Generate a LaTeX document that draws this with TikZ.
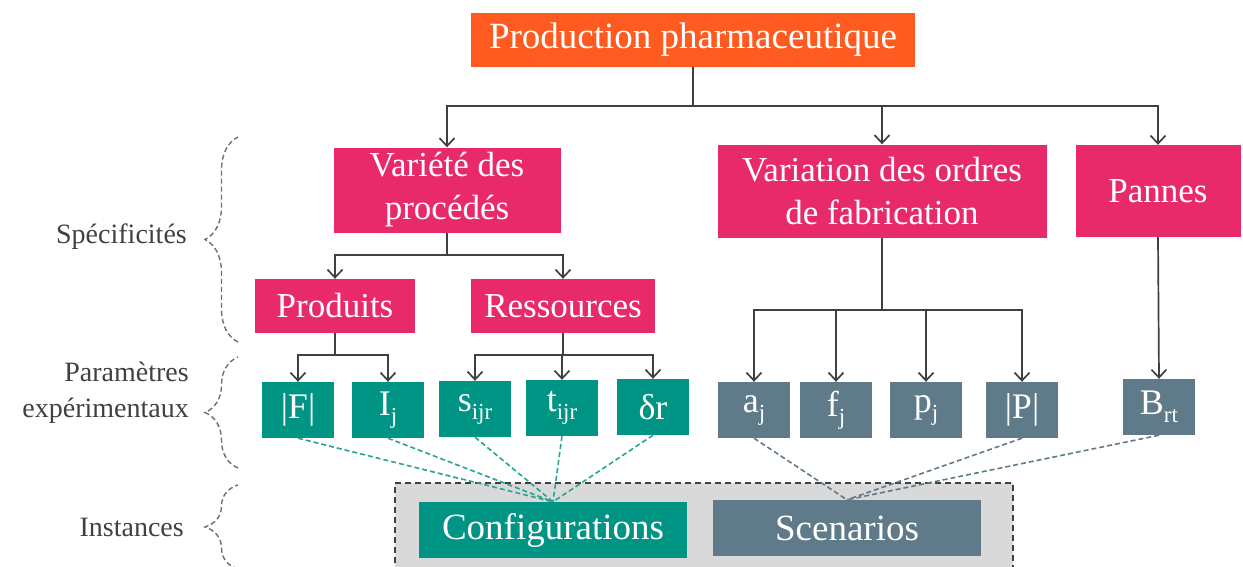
\documentclass[tikz,border=0pt]{standalone}
\usepackage{fontspec}
\setmainfont{Liberation Serif}
\usetikzlibrary{arrows.meta, positioning, calc, decorations.pathreplacing}
\definecolor{prodOrange}{RGB}{255,90,31}
\definecolor{specPink}{RGB}{232,41,106}
\definecolor{confTeal}{RGB}{0,148,132}
\definecolor{scenSlate}{RGB}{95,122,136}
\definecolor{darkgray}{RGB}{64,64,64}
\definecolor{braceGray}{RGB}{110,110,110}
\definecolor{instGray}{RGB}{217,217,217}
\newcommand{\idx}[1]{\raisebox{-8pt}{\fontsize{23}{23}\selectfont #1}}

\begin{document}
\begin{tikzpicture}[
  x=1pt, y=-1pt,
  box/.style={
    rectangle, fill=#1, text=white, inner sep=0pt,
    align=center, font=\fontsize{35}{43}\selectfont
  },
  param/.style={
    box=#1, minimum width=72pt, minimum height=56pt,
    font=\fontsize{36}{40}\selectfont
  },
  lbl/.style={
    text=darkgray, inner sep=0pt, align=right, anchor=east,
    font=\fontsize{28}{36}\selectfont
  },
  arr/.style={-{Straight Barb[length=8pt,width=15pt]}, line width=1.7pt, darkgray},
  link/.style={dash pattern=on 5pt off 3pt, line width=1.6pt, #1},
  curly/.style={
    decorate, decoration={brace, amplitude=33pt},
    dash pattern=on 5pt off 3pt, line width=1.4pt, braceGray
  }
]
  \useasboundingbox (0,0) rectangle (1243,566);

  % Instances frame (runs off the bottom)
  \node[draw=darkgray, dash pattern=on 6pt off 4pt, line width=1.6pt, fill=instGray,
    minimum width=618pt, minimum height=100pt, inner sep=0pt]
    (inst) at (704,533) {};

  % Levels
  \node[box=prodOrange, minimum width=444pt, minimum height=54pt,
    font=\fontsize{37}{43}\selectfont]
    (prod) at (693,40) {Production pharmaceutique};
  \node[box=specPink, minimum width=227pt, minimum height=85pt]
    (vari) at (447,190) {Variété des\\procédés};
  \node[box=specPink, minimum width=329pt, minimum height=93pt]
    (ordres) at (882,191) {Variation des ordres\\de fabrication};
  \node[box=specPink, minimum width=165pt, minimum height=92pt]
    (pannes) at (1158,191) {Pannes};
  \node[box=specPink, minimum width=160pt, minimum height=54pt]
    (produits) at (335,306) {Produits};
  \node[box=specPink, minimum width=184pt, minimum height=54pt]
    (ress) at (563,306) {Ressources};

  % Experimental parameters
  \node[param=confTeal]  (F) at (298,410) {|F|};
  \node[param=confTeal]  (I) at (388,410) {I\idx{j}};
  \node[param=confTeal]  (s) at (475,409) {s\idx{ijr}};
  \node[param=confTeal]  (t) at (562,408) {t\idx{ijr}};
  \node[param=confTeal]  (d) at (653,407) {δr};
  \node[param=scenSlate] (a) at (754,410) {a\idx{j}};
  \node[param=scenSlate] (f) at (836,410) {f\idx{j}};
  \node[param=scenSlate] (p) at (926,410) {p\idx{j}};
  \node[param=scenSlate] (P) at (1022,410) {|P|};
  \node[param=scenSlate] (B) at (1159,407) {B\idx{rt}};

  % Instances
  \node[box=confTeal, minimum width=268pt, minimum height=56pt,
    font=\fontsize{37}{43}\selectfont]
    (conf) at (553,530) {Configurations};
  \node[box=scenSlate, minimum width=268pt, minimum height=56pt,
    font=\fontsize{37}{43}\selectfont]
    (scen) at (847,528) {Scenarios};

  % Tree connectors
  \foreach \c in {vari, ordres, pannes}
    \draw[arr] (prod.south) -- (prod.south |- 0,106) -| (\c.north);
  \foreach \c in {produits, ress}
    \draw[arr] (vari.south) -- (vari.south |- 0,255) -| (\c.north);
  \foreach \c in {F, I}
    \draw[arr] (produits.south) -- (produits.south |- 0,355) -| (\c.north);
  \foreach \c in {s, t, d}
    \draw[arr] (ress.south) -- (ress.south |- 0,355) -| (\c.north);
  \foreach \c in {a, f, p, P}
    \draw[arr] (ordres.south) -- (ordres.south |- 0,310) -| (\c.north);
  \draw[arr] (pannes.south) -- (B.north);

  % Parameters feeding the instances
  \foreach \c in {F, I, s, t, d}
    \draw[link=confTeal!85] (\c.south) -- (conf.north);
  \foreach \c in {a, P, B}
    \draw[link=scenSlate] (\c.south) -- (scen.north);

  % Braces and level names
  \coordinate (specBot) at (238,342);
  \coordinate (specTop) at (238,137);
  \coordinate (paraBot) at (238,468);
  \coordinate (paraTop) at (238,357);
  \coordinate (instBot) at (238,569);
  \coordinate (instTop) at (238,485);
  \draw[curly] (specBot) -- (specTop);
  \draw[curly] (paraBot) -- (paraTop);
  \draw[curly] (instBot) -- (instTop);

  \node[lbl] (specLbl) at (187,237) {Spécificités};
  \node[lbl] (paraLbl) at (189,393) {Paramètres\\expérimentaux};
  \node[lbl] (instLbl) at (184,527) {Instances};
\end{tikzpicture}
\end{document}
